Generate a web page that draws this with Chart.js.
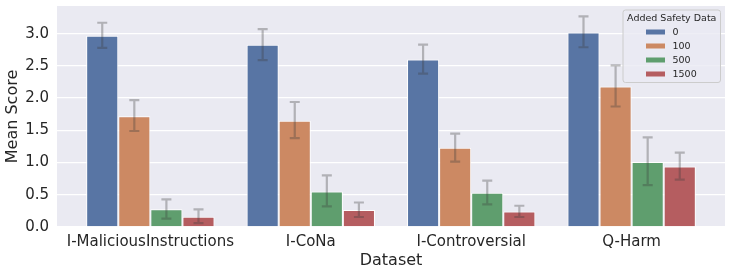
<!DOCTYPE html>
<html>
<head>
<meta charset="utf-8">
<script src="https://cdn.jsdelivr.net/npm/chart.js@4/dist/chart.umd.min.js"></script>
<style>
  html, body { margin: 0; padding: 0; background: #fff; }
  #wrap { width: 731px; height: 274px; position: relative; }
</style>
</head>
<body>
<div id="wrap"><canvas id="chart"></canvas></div>
<script>
// Data
const categories = ['I-MaliciousInstructions', 'I-CoNa', 'I-Controversial', 'Q-Harm'];
const seriesLabels = ['0', '100', '500', '1500'];
const seriesColors = ['#5875a4', '#cc8963', '#5f9e6e', '#b55d60'];

const means0 = [2.97, 2.83, 2.60, 3.02];
const means100 = [1.72, 1.65, 1.23, 2.18];
const means500 = [0.275, 0.55, 0.53, 1.01];
const means1500 = [0.16, 0.265, 0.24, 0.94];

const low0 = [2.78, 2.59, 2.38, 2.79];
const high0 = [3.17, 3.07, 2.83, 3.27];
const low100 = [1.49, 1.38, 1.015, 1.87];
const high100 = [1.97, 1.94, 1.45, 2.51];
const low500 = [0.13, 0.32, 0.35, 0.65];
const high500 = [0.43, 0.80, 0.72, 1.39];
const low1500 = [0.06, 0.155, 0.155, 0.735];
const high1500 = [0.275, 0.38, 0.33, 1.155];

const yTicks = [0, 0.5, 1.0, 1.5, 2.0, 2.5, 3.0];

const allMeans = [means0, means100, means500, means1500];
const allLow = [low0, low100, low500, low1500];
const allHigh = [high0, high100, high500, high1500];

const textColor = '#262626';
const fontFamily = '"DejaVu Sans", sans-serif';

// plot background (seaborn darkgrid look)
const plotBackground = {
    id: 'plotBackground',
    beforeDraw(chart) {
        const { ctx, chartArea: a } = chart;
        ctx.save();
        ctx.fillStyle = '#eaeaf2';
        ctx.fillRect(a.left, a.top, a.right - a.left, a.bottom - a.top);
        ctx.restore();
    }
};

// error bars drawn from the y scale
const errorBars = {
    id: 'errorBars',
    afterDatasetsDraw(chart) {
        const { ctx } = chart;
        const y = chart.scales.y;
        ctx.save();
        ctx.strokeStyle = 'rgba(60, 60, 60, 0.33)';
        ctx.lineWidth = 2.2;
        chart.data.datasets.forEach((ds, i) => {
            const meta = chart.getDatasetMeta(i);
            meta.data.forEach((bar, j) => {
                const yLo = y.getPixelForValue(allLow[i][j]);
                const yHi = y.getPixelForValue(allHigh[i][j]);
                ctx.beginPath();
                ctx.moveTo(bar.x, yLo);
                ctx.lineTo(bar.x, yHi);
                ctx.moveTo(bar.x - 5, yHi);
                ctx.lineTo(bar.x + 5, yHi);
                ctx.moveTo(bar.x - 5, yLo);
                ctx.lineTo(bar.x + 5, yLo);
                ctx.stroke();
            });
        });
        ctx.restore();
    }
};

// legend box in the upper right corner of the plot
const boxLegend = {
    id: 'boxLegend',
    afterDraw(chart) {
        const { ctx, chartArea: a } = chart;
        const right = a.right - 4.5;
        const left = right - 97.5;
        const top = a.top + 4;
        const height = 72.5;
        ctx.save();
        ctx.beginPath();
        ctx.roundRect(left, top, right - left, height, 2.5);
        ctx.fillStyle = 'rgba(234, 234, 242, 0.8)';
        ctx.fill();
        ctx.strokeStyle = '#cccccc';
        ctx.lineWidth = 1;
        ctx.stroke();

        ctx.fillStyle = textColor;
        ctx.font = '9.5px ' + fontFamily;
        ctx.textAlign = 'center';
        ctx.textBaseline = 'middle';
        ctx.fillText('Added Safety Data', (left + right) / 2, top + 8.5);

        ctx.textAlign = 'left';
        chart.data.datasets.forEach((ds, i) => {
            const cy = top + 22 + i * 14;
            ctx.fillStyle = ds.backgroundColor;
            ctx.fillRect(left + 23, cy - 2.5, 19, 5);
            ctx.fillStyle = textColor;
            ctx.fillText(ds.label, left + 49.5, cy + 0.5);
        });
        ctx.restore();
    }
};

const datasets = seriesLabels.map((label, i) => ({
    label: label,
    data: allMeans[i].map((v, j) => ({ x: j, y: v })),
    backgroundColor: seriesColors[i],
    borderColor: '#ffffff',
    borderWidth: 1,
    borderSkipped: 'bottom',
    categoryPercentage: 0.8,
    barPercentage: 1.0
}));

new Chart(document.getElementById('chart'), {
    type: 'bar',
    data: { datasets },
    plugins: [plotBackground, errorBars, boxLegend],
    options: {
        responsive: true,
        maintainAspectRatio: false,
        animation: false,
        layout: { padding: { left: 0, top: 6, right: 6, bottom: 0 } },
        plugins: {
            legend: { display: false },
            tooltip: { enabled: false }
        },
        scales: {
            x: {
                type: 'linear',
                min: -0.582,
                max: 3.582,
                offset: false,
                grid: { display: false, drawTicks: false },
                border: { display: false },
                afterBuildTicks(scale) {
                    scale.ticks = categories.map((c, i) => ({ value: i }));
                },
                afterFit(scale) {
                    scale.height = 47;
                    scale.paddingLeft = 0;
                    scale.paddingRight = 0;
                },
                ticks: {
                    color: textColor,
                    font: { family: fontFamily, size: 15 },
                    padding: 6,
                    maxRotation: 0,
                    autoSkip: false,
                    callback: (v) => categories[v]
                },
                title: {
                    display: true,
                    text: 'Dataset',
                    color: textColor,
                    font: { family: fontFamily, size: 16 },
                    padding: { top: 0, bottom: 4 }
                }
            },
            y: {
                min: 0,
                max: 3.43,
                grid: { color: '#ffffff', lineWidth: 1.3, drawTicks: false },
                border: { display: false },
                afterBuildTicks(scale) {
                    scale.ticks = yTicks.map((v) => ({ value: v }));
                },
                afterFit(scale) {
                    scale.width = 57;
                    scale.paddingTop = 0;
                    scale.paddingBottom = 0;
                },
                ticks: {
                    color: textColor,
                    font: { family: fontFamily, size: 15 },
                    padding: 8,
                    callback: (v) => Number(v).toFixed(1)
                },
                title: {
                    display: true,
                    text: 'Mean Score',
                    color: textColor,
                    font: { family: fontFamily, size: 16 },
                    padding: { top: 3, bottom: 0 }
                }
            }
        }
    }
});
</script>
</body>
</html>
